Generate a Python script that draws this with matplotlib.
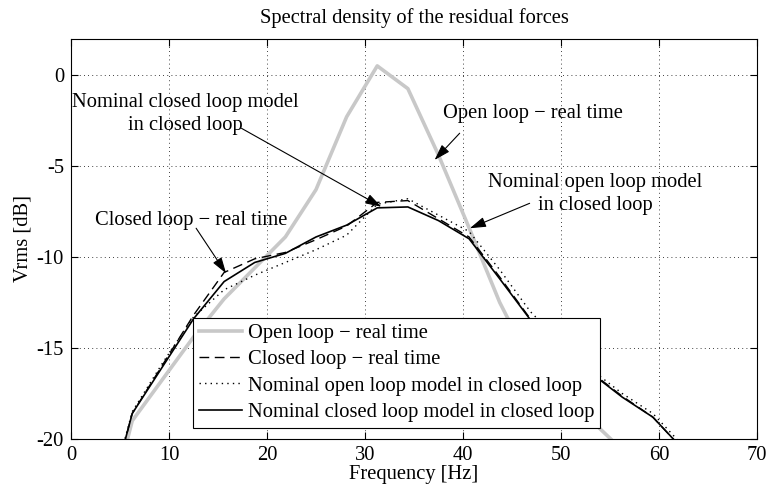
import numpy as np
import matplotlib.pyplot as plt

plt.rcParams['font.family'] = ['Liberation Serif', 'DejaVu Serif']

# frequency bins of the spectral estimate [Hz]
freq = [3.125, 6.25, 9.375, 12.5, 15.625, 18.75, 21.875, 25.0, 28.125, 31.25,
        34.375, 37.5, 40.625, 43.75, 46.875, 50.0, 53.125, 56.25, 59.375, 62.5]

# spectral density [dB]
open_rt = [-25.5, -19.0, -16.7, -14.4, -12.3, -10.6, -8.9, -6.3, -2.3, 0.5,
           -0.75, -4.4, -8.4, -12.5, -15.8, -17.4, -19.0, -20.6, -21.8, -23.0]
closed_rt = [-24.9, -18.6, -15.9, -13.2, -10.85, -10.1, -9.75, -9.05, -8.3, -7.0,
             -6.9, -7.9, -8.9, -11.1, -13.4, -14.95, -16.35, -17.65, -18.8, -20.6]
nom_ol = [-24.8, -18.5, -15.8, -13.3, -11.8, -11.0, -10.3, -9.6, -8.8, -7.1,
          -6.8, -7.7, -8.6, -10.7, -13.0, -14.7, -16.2, -17.5, -18.6, -20.4]
nom_cl = [-24.9, -18.6, -16.0, -13.4, -11.35, -10.3, -9.8, -8.9, -8.25, -7.3,
          -7.25, -8.0, -9.0, -11.2, -13.45, -15.0, -16.4, -17.7, -18.8, -20.6]

labels = ['Open loop \u2212 real time',
          'Closed loop \u2212 real time',
          'Nominal open loop model in closed loop',
          'Nominal closed loop model in closed loop']

fs = 14.8

fig = plt.figure(figsize=(7.69, 4.91), dpi=100)
ax = fig.add_axes([0.0923, 0.1059, 0.8921, 0.8155])

ax.plot(freq, open_rt, color='#c8c8c8', lw=2.6, label=labels[0])
ax.plot(freq, closed_rt, color='k', lw=1.0, dashes=(7, 4), label=labels[1])
ax.plot(freq, nom_ol, color='k', lw=1.0, dashes=(1, 3), label=labels[2])
ax.plot(freq, nom_cl, color='k', lw=1.2, label=labels[3])

ax.set_xlim(0, 70)
ax.set_ylim(-20, 2)
ax.set_xticks(np.arange(0, 71, 10))
ax.set_yticks([-20, -15, -10, -5, 0])
ax.set_yticklabels(['-20', '-15', '-10', '-5', '0'])
ax.grid(True, color='k', lw=0.6, linestyle=(0, (1, 4)))
ax.tick_params(direction='in', top=True, right=True, length=5, width=0.8,
               labelsize=fs, pad=5)
for s in ax.spines.values():
    s.set_linewidth(0.8)

ax.set_title('Spectral density of the residual forces', fontsize=fs, pad=11)
ax.set_xlabel('Frequency [Hz]', fontsize=fs, labelpad=0)
ax.set_ylabel('Vrms [dB]', fontsize=fs, labelpad=3)

arrow = dict(arrowstyle='-|>,head_length=0.7,head_width=0.22', color='k',
             lw=0.8, shrinkA=0, shrinkB=0, mutation_scale=14)

ax.text(11.7, -2.15, 'Nominal closed loop model\nin closed loop', fontsize=fs,
        ha='center', va='center', multialignment='center', linespacing=1.3)
ax.annotate('', xy=(31.67, -7.24), xytext=(17.4, -2.93), arrowprops=arrow)

ax.text(38.0, -2.1, 'Open loop \u2212 real time', fontsize=fs,
        ha='left', va='center')
ax.annotate('', xy=(37.1, -4.67), xytext=(39.66, -3.2), arrowprops=arrow)

ax.text(53.5, -6.55, 'Nominal open loop model\nin closed loop', fontsize=fs,
        ha='center', va='center', multialignment='center', linespacing=1.3)
ax.annotate('', xy=(40.7, -8.42), xytext=(46.8, -7.05), arrowprops=arrow)

ax.text(12.3, -7.97, 'Closed loop \u2212 real time', fontsize=fs,
        ha='center', va='center')
ax.annotate('', xy=(15.83, -10.9), xytext=(12.77, -8.42), arrowprops=arrow)

leg = ax.legend(loc='lower left', bbox_to_anchor=(0.178, 0.0275), fontsize=fs,
                handlelength=2.1, handletextpad=0.25, labelspacing=0.33,
                borderpad=0.3, borderaxespad=0, fancybox=False, framealpha=1,
                edgecolor='k')
leg.get_frame().set_linewidth(0.8)

fig.savefig('out.png', dpi=100)
